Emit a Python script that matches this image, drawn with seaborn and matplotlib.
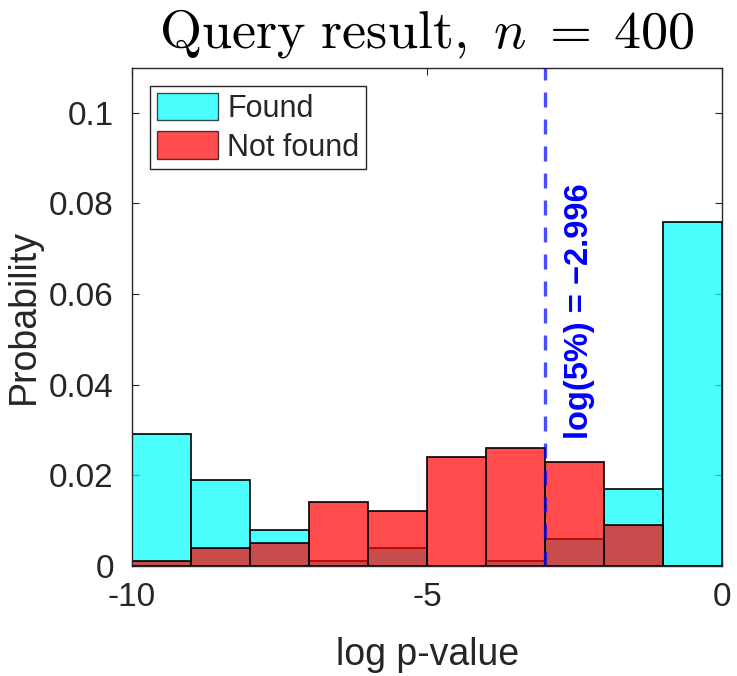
import numpy as np
import matplotlib
matplotlib.use("Agg")
import matplotlib.pyplot as plt
from matplotlib.patches import Patch
import seaborn as sns

# bin edges and per-bin probabilities
bin_edges = [-10, -9, -8, -7, -6, -5, -4, -3, -2, -1, 0]
found = [0.029, 0.019, 0.008, 0.001, 0.004, 0.0, 0.001, 0.006, 0.017, 0.076]
not_found = [0.001, 0.004, 0.005, 0.014, 0.012, 0.024, 0.026, 0.023, 0.009, 0.0]
threshold = np.log(0.05)

sns.set_style("ticks")
plt.rcParams['font.family'] = ['Liberation Sans', 'DejaVu Sans']
plt.rcParams['mathtext.fontset'] = 'cm'

centers = [(a + b) / 2 for a, b in zip(bin_edges[:-1], bin_edges[1:])]
dark = '#262626'

fig = plt.figure(figsize=(7.37, 6.76), dpi=100)
ax = fig.add_axes([0.179, 0.163, 0.801, 0.737])

sns.histplot(x=centers, weights=found, bins=bin_edges, color=(0, 1, 1),
             alpha=0.7, edgecolor='black', linewidth=1.2, ax=ax)
sns.histplot(x=centers, weights=not_found, bins=bin_edges, color=(1, 0, 0),
             alpha=0.7, edgecolor='black', linewidth=1.2, ax=ax)

ax.axvline(threshold, color=(0, 0, 1), alpha=0.7, lw=2.4,
           linestyle=(0, (4.5, 3.6)), zorder=5)
ax.text(threshold + 0.57, 0.0279, f"log(5%) = \u2212{abs(threshold):.3f}",
        rotation=90, ha='center', va='bottom', color=(0, 0, 1),
        fontsize=23.5, fontweight='bold', zorder=6)

ax.set_xlim(-10, 0)
ax.set_ylim(0, 0.11)
ax.set_xticks([-10, -5, 0])
ax.set_xticklabels(['-10', '-5', '0'])
ax.set_yticks([0, 0.02, 0.04, 0.06, 0.08, 0.1])
ax.set_yticklabels(['0', '0.02', '0.04', '0.06', '0.08', '0.1'])
ax.tick_params(direction='in', length=5, width=0.8, colors=dark,
               labelsize=24, top=True, right=True)
ax.tick_params(axis='x', pad=12)
ax.tick_params(axis='y', pad=13)
for s in ax.spines.values():
    s.set_visible(True)
    s.set_color(dark)
    s.set_linewidth(1.0)

ax.set_xlabel('log p-value', fontsize=27, color=dark, labelpad=17)
ax.set_ylabel('Probability', fontsize=27, color=dark)
ax.yaxis.set_label_coords(-0.152, 0.5)
ax.set_title(r'$\mathrm{Query\ result,}\ n\;=\;400$', fontsize=39,
             color='black', pad=14)

handles = [Patch(facecolor=(0, 1, 1), alpha=0.7, edgecolor='black', label='Found'),
           Patch(facecolor=(1, 0, 0), alpha=0.7, edgecolor='black', label='Not found')]
leg = ax.legend(handles=handles, loc='upper left', fontsize=22,
                fancybox=False, framealpha=1, edgecolor=dark,
                handlelength=2.0, handleheight=1.0, handletextpad=0.3,
                borderpad=0.22, labelspacing=0.25, borderaxespad=0.6)
leg.get_frame().set_linewidth(1.0)

fig.savefig('out.png', dpi=100)
